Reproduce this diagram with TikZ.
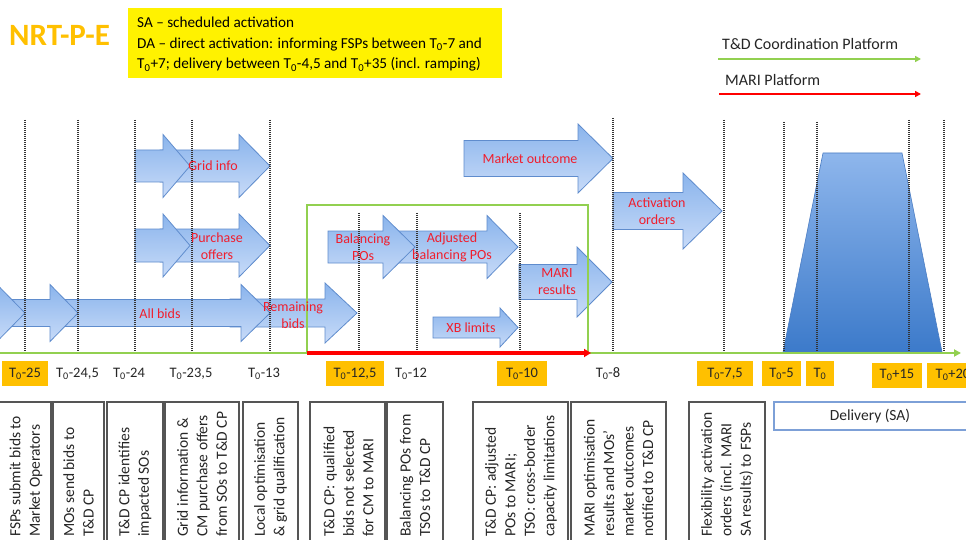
\documentclass[tikz,border=0pt]{standalone}
\usepackage{fontspec}
\setmainfont{Carlito}
\usetikzlibrary{arrows.meta}

\definecolor{tlgreen}{RGB}{146,208,80}
\definecolor{tlred}{RGB}{255,0,0}
\definecolor{tagorange}{RGB}{255,192,0}
\definecolor{arrowedge}{RGB}{95,140,205}
\definecolor{arrowtop}{RGB}{138,180,236}
\definecolor{arrowbot}{RGB}{200,219,248}
\definecolor{labelred}{RGB}{240,30,45}
\definecolor{boxedge}{RGB}{85,85,85}
\definecolor{deledge}{RGB}{125,160,215}
\definecolor{textdark}{RGB}{38,38,38}
\definecolor{trapTop}{RGB}{142,182,236}
\definecolor{trapBot}{RGB}{60,122,202}
\definecolor{trapEdge}{RGB}{75,125,195}

\newcommand\Tz{T\textsubscript{0}}

% block arrow: body start x, head base x, tip x, centre y, body half height, head half height
\newcommand\blockarrow[6]{%
  \path[blockfill] (#1,#4-#5) -- (#2,#4-#5) -- (#2,#4-#6) -- (#3,#4)
    -- (#2,#4+#6) -- (#2,#4+#5) -- (#1,#4+#5) -- cycle;}

\tikzset{
  blockfill/.style={draw=arrowedge, line width=0.8pt, top color=arrowtop, bottom color=arrowbot},
  arrowlabel/.style={text=labelred, align=center, inner sep=0pt,
    font=\fontsize{14}{17}\selectfont},
  timelabel/.style={text=textdark, inner sep=0pt, font=\fontsize{14.5}{17}\selectfont},
  tag/.style={timelabel, fill=tagorange, minimum height=25pt},
  stepline/.style={black!80, line width=1.3pt, dash pattern=on 1pt off 1pt},
  stagebox/.style={draw=boxedge, line width=1.1pt},
  stagetext/.style={rotate=90, anchor=west, align=left, inner sep=0pt, text=textdark,
    font=\fontsize{15.5}{19.5}\selectfont},
  legendtext/.style={anchor=west, inner sep=0pt, text=textdark, font=\fontsize{16}{19}\selectfont},
  notetext/.style={anchor=base west, inner sep=0pt, text=black, font=\fontsize{15.2}{19}\selectfont},
}

\begin{document}
\begin{tikzpicture}[x=1pt, y=-1pt]
\useasboundingbox (0,0) rectangle (966,540);
\clip (0,0) rectangle (966,540);
\fill[white] (0,0) rectangle (966,540);

% title and note box
\node[anchor=west, inner sep=0pt, text=tagorange, font=\fontsize{31}{36}\selectfont\bfseries]
  (title) at (9,35) {NRT-P-E};
\fill[yellow] (128,8) rectangle (502,78);
\node[notetext] (note1) at (137,27.5) {SA – scheduled activation};
\node[notetext] (note2) at (137,48.2) {DA – direct activation: informing FSPs between \Tz-7 and};
\node[notetext] (note3) at (137,69) {\Tz+7; delivery between \Tz-4,5 and \Tz+35 (incl. ramping)};

% legend
\node[legendtext] (lg-td) at (722,44) {T\&D Coordination Platform};
\coordinate (lg-td-a) at (718,59);
\coordinate (lg-td-b) at (921,59);
\draw[tlgreen, line width=2.4pt, -{Triangle[length=6pt,width=6pt]}] (lg-td-a) -- (lg-td-b);
\node[legendtext] (lg-mari) at (725,80) {MARI Platform};
\coordinate (lg-mari-a) at (719,94);
\coordinate (lg-mari-b) at (921,94);
\draw[tlred, line width=2.4pt, -{Triangle[length=6pt,width=6pt]}] (lg-mari-a) -- (lg-mari-b);

% delivery profile
\path[draw=trapEdge, line width=0.6pt, top color=trapTop, bottom color=trapBot]
  (783,352) -- (823,153) -- (902,153) -- (942,352) -- cycle;

% information flows (later steps drawn first, earlier ones on top)
\blockarrow{160}{239}{270}{166}{16}{31.5}
\blockarrow{135}{163}{190}{166}{16}{31.5}
\blockarrow{160}{239}{270}{245.5}{16.5}{31.5}
\blockarrow{135}{163}{190}{245.5}{16.5}{31.5}
\blockarrow{230}{325}{357}{313}{14}{30}
\blockarrow{50}{241}{270}{313}{13.5}{28.5}
\blockarrow{-20}{50}{78}{313}{13.5}{28.5}
\blockarrow{-60}{-3}{25}{313}{13.5}{28.5}
\blockarrow{464}{578}{613}{158.5}{18}{34.5}
\blockarrow{385}{487}{518}{247}{16}{31.5}
\blockarrow{328}{383}{415}{247}{16}{31.5}
\blockarrow{519}{577}{612}{282}{17.5}{35}
\blockarrow{433}{500}{518}{327.5}{10.5}{19.5}
\blockarrow{613}{683}{722}{211}{18.5}{38}

% process steps
\foreach \x/\ytop in {25/120, 78/120, 135/120, 192/120, 270/120, 359/213, 417/213,
                      520/213, 613/118, 724/120, 784/122, 817/122, 909/120, 944/120}
  \draw[stepline] (\x,\ytop) -- (\x,351);

% MARI window
\coordinate (win-bl) at (307,353);
\coordinate (win-tl) at (307,205);
\coordinate (win-tr) at (588,205);
\coordinate (win-br) at (588,353);
\draw[tlgreen, line width=2pt] (win-bl) -- (win-tl) -- (win-tr) -- (win-br);

% time axis
\coordinate (axis-a) at (0,353);
\coordinate (axis-b) at (961,353);
\draw[tlgreen, line width=2.6pt, -{Triangle[length=7pt,width=7pt]}] (axis-a) -- (axis-b);
\coordinate (mari-a) at (307,353);
\coordinate (mari-b) at (591,353);
\draw[tlred, line width=3.4pt, -{Triangle[length=7pt,width=8pt]}] (mari-a) -- (mari-b);

% arrow labels
\node[arrowlabel] (l-grid) at (213,166) {Grid info};
\node[arrowlabel] (l-purch) at (217,246.5) {Purchase\\offers};
\node[arrowlabel] (l-all) at (160,314) {All bids};
\node[arrowlabel] (l-rem) at (293,315) {Remaining\\bids};
\node[arrowlabel] (l-mkt) at (530,158.5) {Market outcome};
\node[arrowlabel] (l-bal) at (363,247) {Balancing\\POs};
\node[arrowlabel] (l-adj) at (452,247) {Adjusted\\balancing POs};
\node[arrowlabel] (l-mari) at (557,282) {MARI\\results};
\node[arrowlabel] (l-xb) at (471,327.5) {XB limits};
\node[arrowlabel] (l-act) at (657,211.5) {Activation\\orders};

% time marks
\node[tag, minimum width=46pt] (t1) at (25,373.5) {\Tz-25};
\node[timelabel] (t2) at (77.5,373.5) {\Tz-24,5};
\node[timelabel] (t3) at (129,373.5) {\Tz-24};
\node[timelabel] (t4) at (191,373.5) {\Tz-23,5};
\node[timelabel] (t5) at (264,373.5) {\Tz-13};
\node[tag, minimum width=58pt] (t6) at (355,373.5) {\Tz-12,5};
\node[timelabel] (t7) at (411,373.5) {\Tz-12};
\node[tag, minimum width=50pt] (t8) at (522,373.5) {\Tz-10};
\node[timelabel] (t9) at (608,373.5) {\Tz-8};
\node[tag, minimum width=56pt] (t10) at (725,373.5) {\Tz-7,5};
\node[tag, minimum width=39pt] (t11) at (781.5,373.5) {\Tz-5};
\node[tag, minimum width=28pt] (t12) at (820,373.5) {\Tz};
\node[tag, minimum width=50pt] (t13) at (897,375) {\Tz+15};
\node[tag, minimum width=52pt] (t14) at (953,375) {\Tz+20};

% step descriptions
\foreach \xa/\xb in {-1/51, 53/104, 107/163, 165/239, 243/298, 310/385, 387/443,
                     473/568, 571/666, 689/765}
  \draw[stagebox] (\xa,402) rectangle (\xb,570);
\node[stagetext] (s1) at (26,537) {FSPs submit bids to\\Market Operators};
\node[stagetext] (s2) at (78.5,537) {MOs send bids to\\T\&D CP};
\node[stagetext] (s3) at (135,537) {T\&D CP identifies\\impacted SOs};
\node[stagetext] (s4) at (202,537) {Grid information \&\\CM purchase offers\\from SOs to T\&D CP};
\node[stagetext] (s5) at (270.5,537) {Local optimisation\\\& grid qualification};
\node[stagetext] (s6) at (348.5,537) {T\&D CP: qualified\\bids not selected\\for CM to MARI};
\node[stagetext] (s7) at (415,537) {Balancing POs from\\TSOs to T\&D CP};
\node[stagetext] (s8) at (521,537) {T\&D CP: adjusted\\POs to MARI;\\TSO: cross-border\\capacity limitations};
\node[stagetext] (s9) at (618.5,537) {MARI optimisation\\results and MOs’\\market outcomes\\notified to T\&D CP};
\node[stagetext] (s10) at (727,537) {Flexibility activation\\orders (incl. MARI\\SA results) to FSPs};
\draw[draw=deledge, line width=1.1pt] (774,402) rectangle (990,430);
\node[inner sep=0pt, text=textdark, font=\fontsize{15.5}{19}\selectfont] (deliv) at (870,416) {Delivery (SA)};
\end{tikzpicture}
\end{document}
